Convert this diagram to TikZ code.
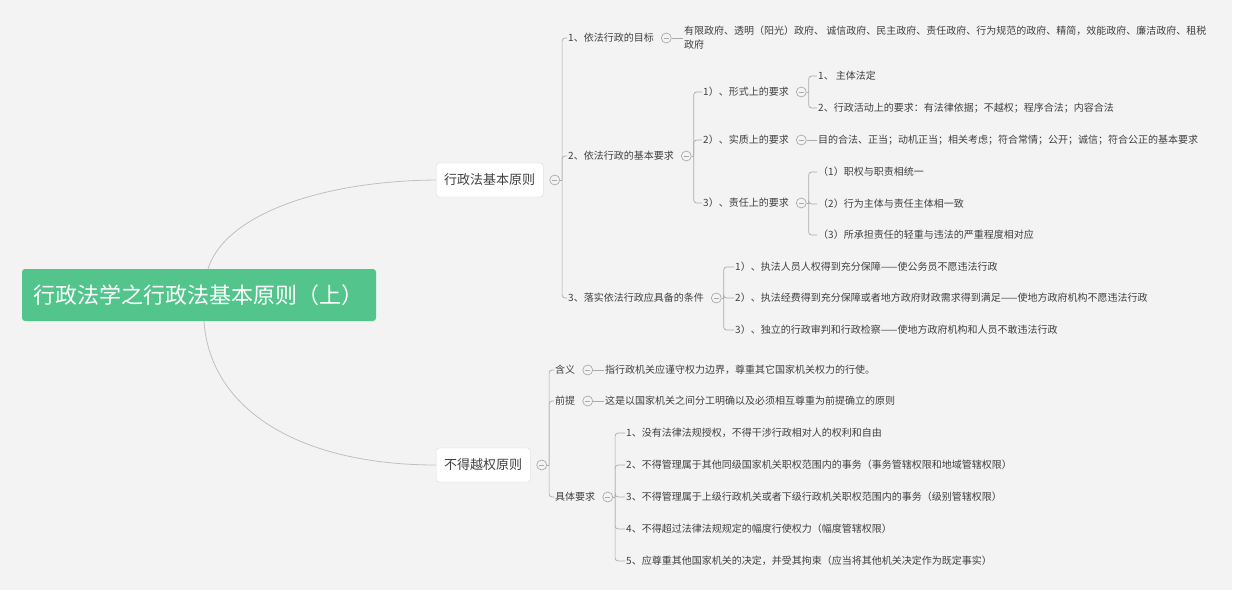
\documentclass[tikz,border=0pt]{standalone}
\usepackage{fontspec}
\setmainfont{Noto Sans CJK SC}
\usepackage{xcolor}
\usepackage{tikz}
\usetikzlibrary{positioning}
\definecolor{mapgreen}{HTML}{52C48C}
\definecolor{mapbg}{HTML}{F3F3F3}
\definecolor{mapline}{HTML}{ABABAB}
\definecolor{maptext}{HTML}{404040}
\definecolor{mapbox}{HTML}{DADADA}

\begin{document}
\begin{tikzpicture}[x=1pt, y=-1pt,
  topic/.style={fill=white, draw=mapbox, rounded corners=3pt, anchor=west, text=maptext,
                font=\fontsize{13}{15}\selectfont, inner xsep=8pt, minimum height=34pt},
  leaf/.style={anchor=west, inner sep=1pt, text=maptext, font=\fontsize{10}{14}\selectfont, align=left},
  fold/.style={circle, draw=mapline, line width=0.7pt, fill=mapbg, minimum size=10pt, inner sep=0pt,
               right=6pt of #1,
               path picture={\draw[mapline, line width=0.7pt] ([xshift=-2.5pt]path picture bounding box.center)
                                            -- ([xshift=2.5pt]path picture bounding box.center);}},
  link/.style={draw=mapline, line width=0.7pt, rounded corners=3pt},
  curve/.style={draw=mapline!75, line width=0.8pt}]

\useasboundingbox (0,0) rectangle (1240,594);
\fill[mapbg] (0,0) rectangle (1232,590);

% root
\node[fill=mapgreen, rounded corners=3pt, text=white, font=\fontsize{22}{26}\selectfont,
      minimum width=354pt, minimum height=52pt] (root) at (199,295) {行政法学之行政法基本原则（上）};

% main topics
\node[topic] (b1) at (436,180) {行政法基本原则};
\node[topic] (b2) at (436,465) {不得越权原则};
\node[fold=b1] (b1f) {};
\node[fold=b2] (b2f) {};

% 行政法基本原则
\node[leaf] (c1) at (567,38) {1、依法行政的目标};
\node[leaf] (c2) at (567,156) {2、依法行政的基本要求};
\node[leaf] (c3) at (567,298) {3、落实依法行政应具备的条件};
\node[fold=c1] (c1f) {};
\node[fold=c2] (c2f) {};
\node[fold=c3] (c3f) {};
\node[leaf] (c1t) at (683,38) {有限政府、透明（阳光）政府、 诚信政府、民主政府、责任政府、行为规范的政府、精简，效能政府、廉洁政府、租税\\政府};

\node[leaf] (d1) at (702,92) {1）、形式上的要求};
\node[leaf] (d2) at (702,140) {2）、实质上的要求};
\node[leaf] (d3) at (702,203) {3）、责任上的要求};
\node[fold=d1] (d1f) {};
\node[fold=d2] (d2f) {};
\node[fold=d3] (d3f) {};

\node[leaf] (e1) at (817,76) {1、 主体法定};
\node[leaf] (e2) at (817,108) {2、行政活动上的要求：有法律依据；不越权；程序合法；内容合法};
\node[leaf] (d2t) at (817,140) {目的合法、正当；动机正当；相关考虑；符合常情；公开；诚信；符合公正的基本要求};
\node[leaf] (f1) at (817,172) {（1）职权与职责相统一};
\node[leaf] (f2) at (817,204) {（2）行为主体与责任主体相一致};
\node[leaf] (f3) at (817,235) {（3）所承担责任的轻重与违法的严重程度相对应};

\node[leaf] (g1) at (734,267) {1）、执法人员人权得到充分保障——使公务员不愿违法行政};
\node[leaf] (g2) at (734,298) {2）、执法经费得到充分保障或者地方政府财政需求得到满足——使地方政府机构不愿违法行政};
\node[leaf] (g3) at (734,330) {3）、独立的行政审判和行政检察——使地方政府机构和人员不敢违法行政};

% 不得越权原则
\node[leaf] (h1) at (554,370) {含义};
\node[leaf] (h2) at (554,401) {前提};
\node[leaf] (h3) at (554,497) {具体要求};
\node[fold=h1] (h1f) {};
\node[fold=h2] (h2f) {};
\node[fold=h3] (h3f) {};
\node[leaf] (h1t) at (604,370) {指行政机关应谨守权力边界，尊重其它国家机关权力的行使。};
\node[leaf] (h2t) at (604,401) {这是以国家机关之间分工明确以及必须相互尊重为前提确立的原则};

\node[leaf] (k1) at (625,433) {1、没有法律法规授权，不得干涉行政相对人的权利和自由};
\node[leaf] (k2) at (625,465) {2、不得管理属于其他同级国家机关职权范围内的事务（事务管辖权限和地域管辖权限）};
\node[leaf] (k3) at (625,497) {3、不得管理属于上级行政机关或者下级行政机关职权范围内的事务（级别管辖权限）};
\node[leaf] (k4) at (625,529) {4、不得超过法律法规规定的幅度行使权力（幅度管辖权限）};
\node[leaf] (k5) at (625,561) {5、应尊重其他国家机关的决定，并受其拘束（应当将其他机关决定作为既定事实）};

% connectors
\draw[curve] ([xshift=9pt]root.north) .. controls (225,215) and (320,181) .. (b1.west);
\draw[curve] ([xshift=5pt]root.south) .. controls (210,410) and (300,465) .. (b2.west);

\foreach \p/\kids in {b1/{c1,c2,c3}, c2/{d1,d2,d3}, c3/{g1,g2,g3}, d1/{e1,e2},
                      d3/{f1,f2,f3}, b2/{h1,h2,h3}, h3/{k1,k2,k3,k4,k5}} {
  \coordinate (\p j) at ([xshift=2pt]\p f.east);
  \draw[link] (\p f.east) -- (\p j);
  \foreach \k in \kids \draw[link] (\p j) |- (\k.west);
}
\foreach \p/\t in {c1/c1t, d2/d2t, h1/h1t, h2/h2t}
  \draw[link] (\p f.east) -- (\t.west);
\end{tikzpicture}
\end{document}
